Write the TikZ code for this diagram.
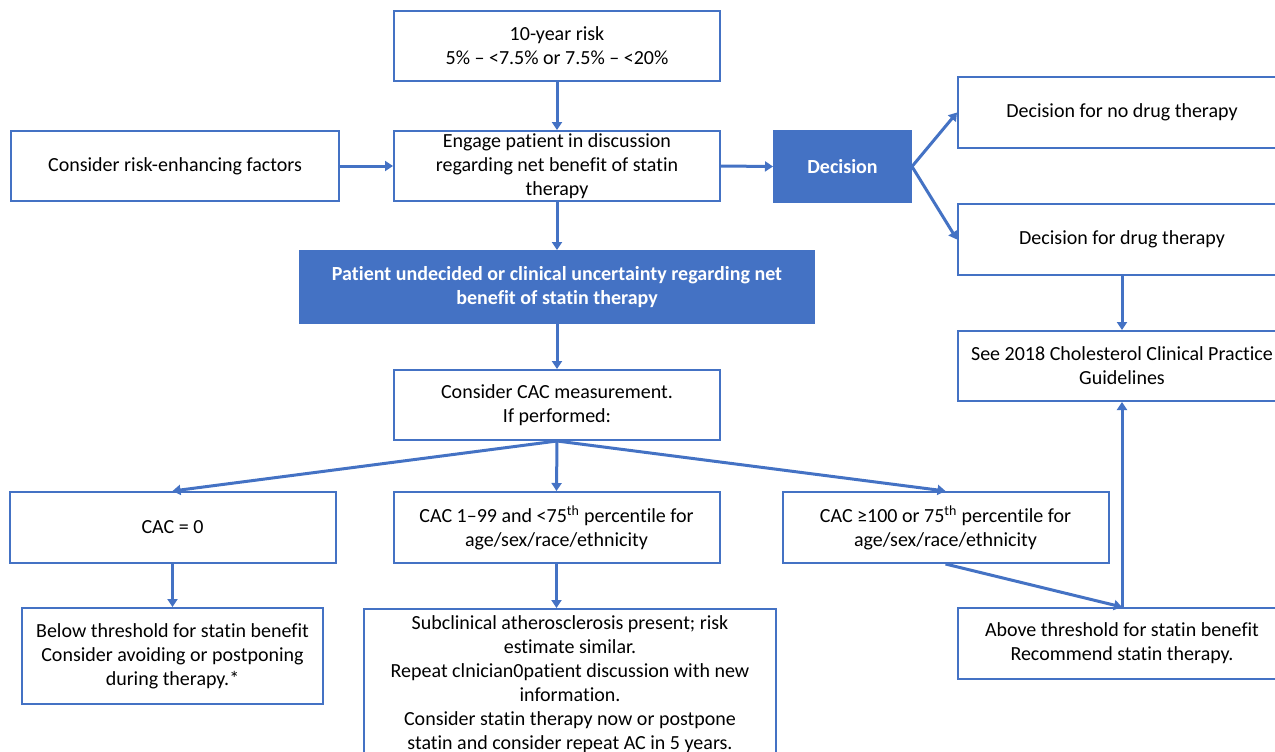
\documentclass[tikz,border=0pt]{standalone}
\usepackage{fontspec}
\setmainfont[Ligatures=NoCommon]{Carlito}
\usetikzlibrary{arrows.meta}
\definecolor{obl}{HTML}{4472C4}
\begin{document}
\begin{tikzpicture}[x=0.75pt,y=-0.75pt,
  box/.style={draw=obl, line width=1.5pt, fill=white, align=center, inner sep=0pt,
    font=\fontsize{15pt}{18pt}\selectfont, minimum width=244.5pt, minimum height=52.5pt},
  fbox/.style={box, fill=obl, text=white, font=\fontsize{15pt}{18pt}\selectfont\bfseries},
  arr/.style={draw=obl, line width=2.25pt, -{Triangle[length=6pt,width=7.5pt]}}]
\clip (0,0) rectangle (1275,751);
\fill[white] (0,0) rectangle (1275,751);
\node[box] (risk) at (557,46) {10-year risk\\5\% -- <7.5\% or 7.5\% -- <20\%};
\node[box] (engage) at (557,166) {Engage patient in discussion\\regarding net benefit of statin\\therapy};
\node[box, minimum width=246pt] (rf) at (175,166) {Consider risk-enhancing factors};
\node[fbox, minimum width=102.75pt, minimum height=53.25pt] (dec) at (842.5,166.5) {Decision};
\node[box, minimum width=246pt, minimum height=53.25pt] (nodrug) at (1122,112.5) {Decision for no drug therapy};
\node[box, minimum width=246pt, minimum height=53.25pt] (drug) at (1122,239.5) {Decision for drug therapy};
\node[box, minimum width=246pt] (see) at (1122,366) {See 2018 Cholesterol Clinical Practice\\Guidelines};
\node[fbox, minimum width=385.5pt, minimum height=54pt] (und) at (557,287) {Patient undecided or clinical uncertainty regarding net\\benefit of statin therapy};
\node[box] (meas) at (557,405) {Consider CAC measurement.\\If performed:};
\node[box, minimum height=53.25pt] (c0) at (172.5,527.5) {CAC = 0};
\node[box, minimum height=53.25pt] (c1) at (556.5,527.5) {CAC 1--99 and <75\textsuperscript{th} percentile for\\age/sex/race/ethnicity};
\node[box, minimum height=53.25pt] (c100) at (945.5,527.5) {CAC ≥100 or 75\textsuperscript{th} percentile for\\age/sex/race/ethnicity};
\node[box, minimum width=225.75pt, minimum height=72pt] (below) at (172.5,656) {Below threshold for statin benefit\\Consider avoiding or postponing\\during therapy.*};
\node[box, minimum width=309pt, minimum height=120pt, anchor=north, text depth=0pt] (sub) at (570,608) {\\[-18pt]Subclinical atherosclerosis present; risk\\estimate similar.\\Repeat clnician0patient discussion with new\\information.\\Consider statin therapy now or postpone\\statin and consider repeat AC in 5 years.};
\node[box, minimum width=246pt, minimum height=53.25pt] (above) at (1122,643.5) {Above threshold for statin benefit\\Recommend statin therapy.};
\draw[arr] (risk.south) -- (engage.north);
\draw[arr] (rf.east) -- (engage.west);
\draw[arr] (engage.east) -- (dec.west);
\draw[arr] (dec.east) -- (nodrug.west);
\draw[arr] (dec.east) -- (drug.west);
\draw[arr] (drug.south) -- (see.north);
\draw[arr] (engage.south) -- (und.north);
\draw[arr] (und.south) -- (meas.north);
\draw[arr] (meas.south) -- (c0.north);
\draw[arr] (meas.south) -- (c1.north);
\draw[arr] (meas.south) -- (c100.north);
\draw[arr] (c0.south) -- (below.north);
\draw[arr] (c1.south) -- (sub.north -| c1.south);
\draw[arr] (c100.south) -- (above.north);
\draw[arr] (above.north) -- (see.south);
\end{tikzpicture}
\end{document}
